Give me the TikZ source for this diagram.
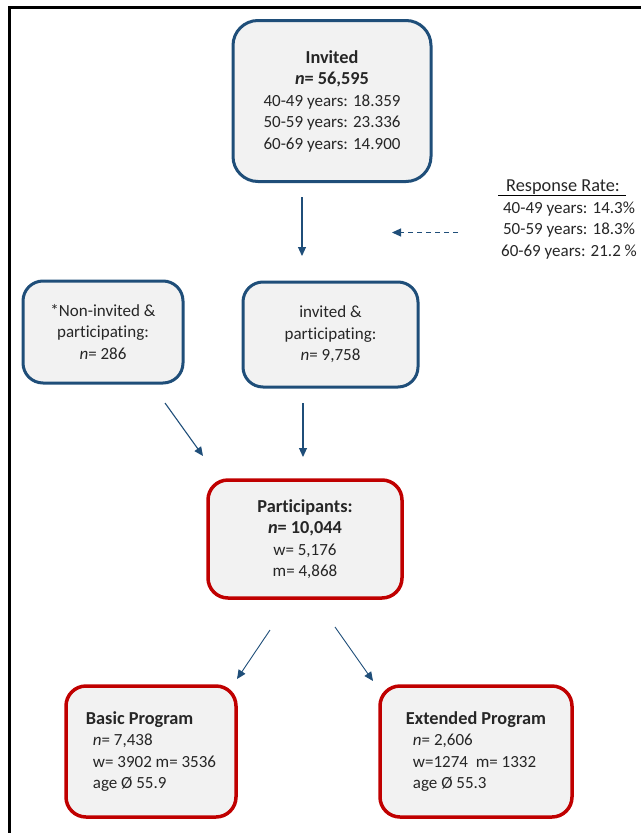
\documentclass[tikz,border=0pt]{standalone}
\usepackage{fontspec}
\setmainfont{Carlito}[Ligatures=NoCommon]
\usetikzlibrary{arrows.meta}
\definecolor{bblue}{HTML}{1F4E79}
\definecolor{rred}{HTML}{C00000}
\definecolor{boxfill}{HTML}{F2F2F2}
\definecolor{txt}{HTML}{262626}
\newcommand\bigbold[1]{{\fontsize{18.3}{21.5}\selectfont\textbf{#1}}}
\newcommand\bigtext[1]{{\fontsize{18.3}{21.5}\selectfont #1}}
\tikzset{
  txtfont/.style={font=\fontsize{17}{21.5}\selectfont, text=txt},
  bluebox/.style={txtfont, draw=bblue, line width=3pt, fill=boxfill, rounded corners=20pt, inner sep=0pt, align=center},
  redbox/.style={txtfont, draw=rred, line width=3.5pt, fill=boxfill, rounded corners=20pt, inner sep=0pt},
  conn/.style={draw=bblue, line width=1.1pt, -{Triangle[length=9pt,width=8pt]}},
}
\begin{document}
\begin{tikzpicture}[x=1pt,y=-1pt]
\useasboundingbox (0,0) rectangle (641,833);
% frame
\draw[line width=3pt, black] (9.5,833) -- (9.5,7.3) -- (641,7.3);
% boxes
\node[bluebox, rounded corners=25pt, minimum width=198pt, minimum height=161pt] (invited) at (332,101)
  {\bigbold{Invited}\\ \bigbold{\textit{n}= 56,595}\\ 40-49 years: 18.359\\ 50-59 years: 23.336\\ 60-69 years: 14.900};
\node[bluebox, minimum width=160pt, minimum height=102pt] (noninv) at (103,332)
  {*Non-invited \&\\ participating:\\ \textit{n}= 286};
\node[bluebox, minimum width=175pt, minimum height=105pt] (invpart) at (330.5,334.5)
  {invited \&\\ participating:\\ \textit{n}= 9,758};
\node[redbox, align=center, minimum width=194pt, minimum height=118pt] (part) at (305,539)
  {\bigbold{Participants:}\\ \bigbold{\textit{n}= 10,044}\\ w= 5,176\\ m= 4,868};
\node[redbox, align=left, minimum width=170pt, minimum height=131pt] (basic) at (151,751.5)
  {\bigbold{Basic Program}\\ \hspace*{7pt}\textit{n}= 7,438\\ \hspace*{7pt}w= 3902 m= 3536\\ \hspace*{7pt}age Ø 55.9};
\node[redbox, align=left, minimum width=192pt, minimum height=131pt] (ext) at (476,751.5)
  {\bigbold{Extended Program}\\ \hspace*{7pt}\textit{n}= 2,606\\ \hspace*{7pt}w=1274\ \ m= 1332\\ \hspace*{7pt}age Ø 55.3};
% response rate
\node[txtfont, inner sep=0pt] (rrtitle) at (563,187) {\bigtext{Response Rate:}};
\node[txtfont, align=center, inner sep=0pt] (rrlist) at (569,230.5)
  {40-49 years: 14.3\%\\ 50-59 years: 18.3\%\\ 60-69 years: 21.2 \%};
\coordinate (ulA) at (498,195.5);
\coordinate (ulB) at (626,195.5);
\draw[line width=1.6pt, black] (ulA) -- (ulB);
% connectors
\coordinate (a1s) at (302,197); \coordinate (a1e) at (302,256);
\coordinate (a2s) at (165,403); \coordinate (a2e) at (203,456);
\coordinate (a3s) at (303,403); \coordinate (a3e) at (303,457);
\coordinate (a4s) at (270,630); \coordinate (a4e) at (237,679);
\coordinate (a5s) at (335,627); \coordinate (a5e) at (373,681);
\coordinate (ds) at (458,232.5); \coordinate (de) at (392,232.5);
\draw[conn] (a1s) -- (a1e);
\draw[conn] (a2s) -- (a2e);
\draw[conn] (a3s) -- (a3e);
\draw[conn, line width=0.9pt] (a4s) -- (a4e);
\draw[conn, line width=0.9pt] (a5s) -- (a5e);
\draw[conn, dashed, dash pattern=on 5pt off 4pt] (ds) -- (de);
\end{tikzpicture}
\end{document}
